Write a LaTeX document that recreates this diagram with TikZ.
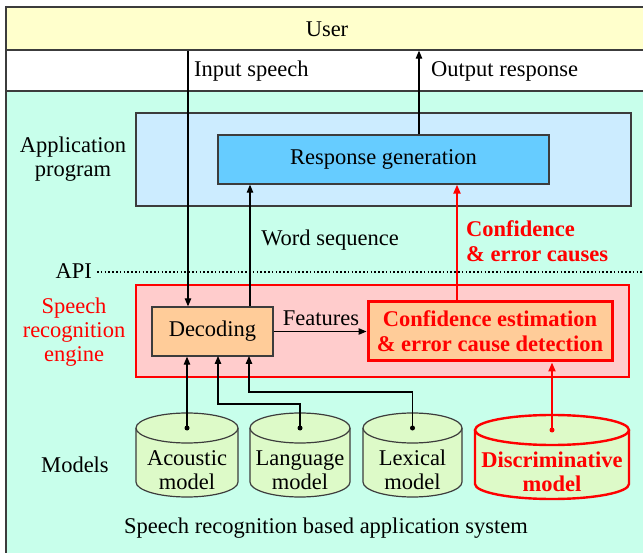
\documentclass[tikz,border=0pt]{standalone}
\usepackage{fontspec}
\setmainfont{LiberationSerif}[Extension=.ttf,UprightFont=*-Regular,BoldFont=*-Bold,ItalicFont=*-Italic,BoldItalicFont=*-BoldItalic]
\usetikzlibrary{arrows.meta}

\definecolor{userfill}{RGB}{255,255,204}
\definecolor{sysfill}{RGB}{200,255,235}
\definecolor{appfill}{RGB}{204,236,255}
\definecolor{respfill}{RGB}{102,204,255}
\definecolor{enginefill}{RGB}{255,204,204}
\definecolor{procfill}{RGB}{255,204,153}
\definecolor{drumfill}{RGB}{221,250,200}
\definecolor{edge}{RGB}{60,60,60}
\definecolor{hot}{RGB}{255,0,0}

% cylinder for a model store: #1 name, #2 left x, #3 right x, #4 top y, #5 extra style, #6 text
\newcommand\modeldrum[6]{%
  \pgfmathsetmacro\drumrx{(#3-#2)/2}%
  \pgfmathsetmacro\drumcx{(#2+#3)/2}%
  \pgfmathsetmacro\drumyb{#4+54}%
  \filldraw[drum,#5] (#2,#4) -- (#2,\drumyb) arc[start angle=180,end angle=360,x radius=\drumrx pt,y radius=15pt] -- (#3,#4);
  \filldraw[drum,#5] (\drumcx,#4) ellipse[x radius=\drumrx pt,y radius=15pt];
  \coordinate (#1) at (\drumcx,#4);
  \node[txt,#5,draw=none,fill=none] (#1-text) at (\drumcx,\drumyb-12) {#6};
}

\begin{document}
\begin{tikzpicture}[x=1pt,y=-1pt,
  txt/.style={font=\rmfamily\fontsize{22.5}{24}\selectfont,align=center,inner sep=0pt},
  hottxt/.style={txt,text=hot,font=\rmfamily\fontsize{22.5}{25}\selectfont\bfseries},
  box/.style={draw=edge,line width=1.3pt,inner sep=0pt},
  drum/.style={draw=edge,line width=1.2pt,fill=drumfill},
  reddrum/.style={draw=hot,line width=2.4pt,text=hot,font=\rmfamily\fontsize{22.5}{24}\selectfont\bfseries},
  link/.style={draw=black,line width=1.1pt},
  arr/.style={link,-{Triangle[length=8pt,width=6.5pt]}},
  redarr/.style={draw=hot,line width=2pt,-{Triangle[length=9pt,width=7pt]}},
  dot/.style={circle,fill=black,inner sep=0pt,minimum size=5pt},
]
\useasboundingbox (0,0) rectangle (643,553);

% frames of the whole system
\node[box,fill=userfill,minimum width=642pt,minimum height=43pt] (user) at (327,28.5) {};
\node[txt] (usertext) at (327,29) {User};
\node[box,fill=white,minimum width=642pt,minimum height=41pt] (band) at (327,70.5) {};
\node[box,fill=sysfill,minimum width=642pt,minimum height=470pt,anchor=north west] (sys) at (6,91) {};
\draw[draw=edge,line width=2pt] (6,6) -- (6,553);
\draw[draw=edge,line width=1.6pt] (6,6.5) -- (643,6.5);

% application layer
\node[box,fill=appfill,minimum width=495pt,minimum height=93pt] (app) at (383.5,159.5) {};
\node[box,fill=respfill,minimum width=331pt,minimum height=49pt,txt] (resp) at (383.5,159.5) {Response generation};
\node[txt] (applabel) at (73,159) {Application\\program};

% API boundary
\node[txt,anchor=east] (api) at (92,271) {API};
\coordinate (apiend) at (643,272);
\draw[line width=1.6pt,dash pattern=on 1.6pt off 2.2pt] (api.east) ++(5,1) -- (apiend);

% recognition engine
\node[draw=hot,line width=1.2pt,fill=enginefill,minimum width=493pt,minimum height=92pt] (engine) at (382.5,331) {};
\node[txt,text=hot] (enginelabel) at (74,332.5) {Speech\\recognition\\engine};
\node[box,fill=procfill,minimum width=121pt,minimum height=49pt,txt] (dec) at (212.5,331.5) {Decoding};
\node[draw=hot,line width=3pt,fill=procfill,minimum width=244pt,minimum height=59pt,hottxt] (conf) at (490,331.5) {Confidence estimation\\\& error cause detection};

% models
\node[txt] (modelslabel) at (75,465) {Models};
\modeldrum{acoustic}{136}{238}{428}{}{Acoustic\\model}
\modeldrum{language}{250}{350}{428}{}{Language\\model}
\modeldrum{lexical}{363}{462}{428}{}{Lexical\\model}
\modeldrum{discrim}{475}{629}{430}{reddrum}{Discriminative\\model}

\node[txt] (syslabel) at (326,528) {Speech recognition based application system};

% signal flow
\coordinate (inx) at (188,0);
\coordinate (outx) at (419,0);
\coordinate (wordx) at (250,0);
\coordinate (confx) at (457,0);
\draw[arr] (inx |- user.south) -- (inx |- dec.north);
\node[txt,anchor=west] (inlabel) at (194,71) {Input speech};
\draw[arr] (outx |- resp.north) -- (outx |- user.south);
\node[txt,anchor=west] (outlabel) at (431,71) {Output response};
\draw[arr] (wordx |- dec.north) -- (wordx |- resp.south);
\node[txt] (wordlabel) at (330,240) {Word sequence};
\draw[redarr] (confx |- conf.north) -- (confx |- resp.south);
\node[hottxt,anchor=west,align=left] (conflabel) at (466,241.5) {Confidence\\\& error causes};
\draw[arr] (dec.east) -- (conf.west);
\node[txt] (featlabel) at (321,318) {Features};

% model inputs to decoding
\draw[arr] (acoustic) -- (acoustic |- dec.south);
\draw[arr] (language) -- (300,404) -- (218,404) -- (218,356);
\draw[arr] (lexical) -- (412.5,392) -- (249,392) -- (249,356);
\draw[redarr] (discrim) -- (discrim |- conf.south);
\node[dot] (acdot) at (acoustic) {};
\node[dot] (ladot) at (language) {};
\node[dot] (lxdot) at (lexical) {};
\node[dot,fill=hot] (didot) at (discrim) {};
\end{tikzpicture}
\end{document}
